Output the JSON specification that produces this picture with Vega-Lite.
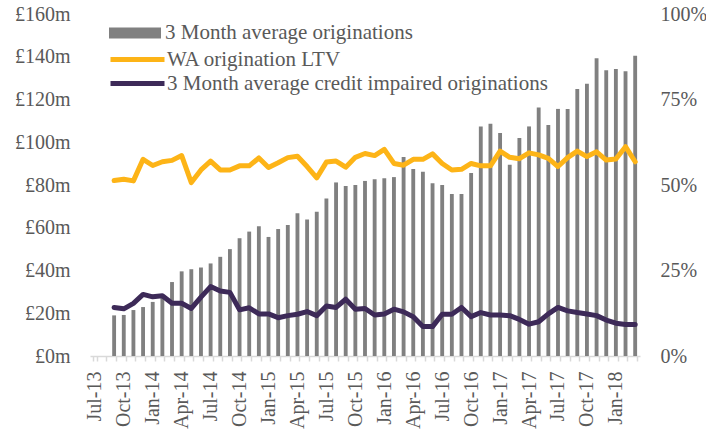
{
  "$schema": "https://vega.github.io/schema/vega-lite/v6.json",
  "width": 550,
  "height": 342,
  "autosize": {"type": "none"},
  "padding": {"left": 90, "top": 14, "right": 66, "bottom": 74},
  "background": "white",
  "config": {
    "view": {"stroke": null},
    "font": "Liberation Serif",
    "axis": {"labelFont": "Liberation Serif", "labelFontSize": 20, "labelColor": "#595959", "grid": false, "title": null},
    "legend": {"labelFont": "Liberation Serif", "labelFontSize": 21, "labelColor": "#595959", "padding": 0, "title": null, "labelLimit": 600}
  },
  "data": {"values": [
    {"month": "Sep-13", "orig": 19.0, "ltv": 0.513, "ci": 0.142},
    {"month": "Oct-13", "orig": 19.2, "ltv": 0.517, "ci": 0.138},
    {"month": "Nov-13", "orig": 21.5, "ltv": 0.512, "ci": 0.154},
    {"month": "Dec-13", "orig": 22.9, "ltv": 0.575, "ci": 0.180},
    {"month": "Jan-14", "orig": 25.3, "ltv": 0.557, "ci": 0.173},
    {"month": "Feb-14", "orig": 27.5, "ltv": 0.568, "ci": 0.176},
    {"month": "Mar-14", "orig": 34.6, "ltv": 0.572, "ci": 0.154},
    {"month": "Apr-14", "orig": 39.6, "ltv": 0.586, "ci": 0.154},
    {"month": "May-14", "orig": 40.6, "ltv": 0.507, "ci": 0.139},
    {"month": "Jun-14", "orig": 41.4, "ltv": 0.544, "ci": 0.172},
    {"month": "Jul-14", "orig": 43.3, "ltv": 0.570, "ci": 0.203},
    {"month": "Aug-14", "orig": 46.4, "ltv": 0.544, "ci": 0.190},
    {"month": "Sep-14", "orig": 50.0, "ltv": 0.544, "ci": 0.186},
    {"month": "Oct-14", "orig": 55.1, "ltv": 0.556, "ci": 0.135},
    {"month": "Nov-14", "orig": 58.2, "ltv": 0.556, "ci": 0.141},
    {"month": "Dec-14", "orig": 60.7, "ltv": 0.579, "ci": 0.123},
    {"month": "Jan-15", "orig": 55.7, "ltv": 0.551, "ci": 0.123},
    {"month": "Feb-15", "orig": 59.4, "ltv": 0.565, "ci": 0.112},
    {"month": "Mar-15", "orig": 61.3, "ltv": 0.580, "ci": 0.118},
    {"month": "Apr-15", "orig": 66.8, "ltv": 0.584, "ci": 0.122},
    {"month": "May-15", "orig": 63.9, "ltv": 0.554, "ci": 0.130},
    {"month": "Jun-15", "orig": 67.5, "ltv": 0.521, "ci": 0.118},
    {"month": "Jul-15", "orig": 73.7, "ltv": 0.567, "ci": 0.146},
    {"month": "Aug-15", "orig": 81.2, "ltv": 0.570, "ci": 0.142},
    {"month": "Sep-15", "orig": 79.5, "ltv": 0.552, "ci": 0.166},
    {"month": "Oct-15", "orig": 80.0, "ltv": 0.581, "ci": 0.137},
    {"month": "Nov-15", "orig": 81.9, "ltv": 0.592, "ci": 0.139},
    {"month": "Dec-15", "orig": 82.7, "ltv": 0.586, "ci": 0.120},
    {"month": "Jan-16", "orig": 83.1, "ltv": 0.604, "ci": 0.123},
    {"month": "Feb-16", "orig": 83.7, "ltv": 0.563, "ci": 0.137},
    {"month": "Mar-16", "orig": 93.1, "ltv": 0.558, "ci": 0.129},
    {"month": "Apr-16", "orig": 87.5, "ltv": 0.575, "ci": 0.115},
    {"month": "May-16", "orig": 86.2, "ltv": 0.575, "ci": 0.086},
    {"month": "Jun-16", "orig": 80.8, "ltv": 0.591, "ci": 0.086},
    {"month": "Jul-16", "orig": 80.0, "ltv": 0.563, "ci": 0.122},
    {"month": "Aug-16", "orig": 75.8, "ltv": 0.544, "ci": 0.122},
    {"month": "Sep-16", "orig": 75.8, "ltv": 0.546, "ci": 0.142},
    {"month": "Oct-16", "orig": 85.6, "ltv": 0.563, "ci": 0.115},
    {"month": "Nov-16", "orig": 107.4, "ltv": 0.556, "ci": 0.127},
    {"month": "Dec-16", "orig": 108.7, "ltv": 0.556, "ci": 0.120},
    {"month": "Jan-17", "orig": 104.3, "ltv": 0.599, "ci": 0.120},
    {"month": "Feb-17", "orig": 89.5, "ltv": 0.581, "ci": 0.118},
    {"month": "Mar-17", "orig": 102.0, "ltv": 0.577, "ci": 0.107},
    {"month": "Apr-17", "orig": 107.4, "ltv": 0.594, "ci": 0.093},
    {"month": "May-17", "orig": 116.2, "ltv": 0.588, "ci": 0.100},
    {"month": "Jun-17", "orig": 108.1, "ltv": 0.578, "ci": 0.123},
    {"month": "Jul-17", "orig": 115.6, "ltv": 0.554, "ci": 0.142},
    {"month": "Aug-17", "orig": 115.6, "ltv": 0.580, "ci": 0.132},
    {"month": "Sep-17", "orig": 124.9, "ltv": 0.599, "ci": 0.127},
    {"month": "Oct-17", "orig": 127.4, "ltv": 0.583, "ci": 0.123},
    {"month": "Nov-17", "orig": 139.3, "ltv": 0.597, "ci": 0.118},
    {"month": "Dec-17", "orig": 133.7, "ltv": 0.573, "ci": 0.105},
    {"month": "Jan-18", "orig": 134.3, "ltv": 0.576, "ci": 0.096},
    {"month": "Feb-18", "orig": 133.2, "ltv": 0.612, "ci": 0.092},
    {"month": "Mar-18", "orig": 140.5, "ltv": 0.568, "ci": 0.092}
  ]},
  "encoding": {
    "x": {
      "field": "month", "type": "ordinal",
      "scale": {
        "domain": ["Jul-13","Aug-13","Sep-13","Oct-13","Nov-13","Dec-13","Jan-14","Feb-14","Mar-14","Apr-14","May-14","Jun-14","Jul-14","Aug-14","Sep-14","Oct-14","Nov-14","Dec-14","Jan-15","Feb-15","Mar-15","Apr-15","May-15","Jun-15","Jul-15","Aug-15","Sep-15","Oct-15","Nov-15","Dec-15","Jan-16","Feb-16","Mar-16","Apr-16","May-16","Jun-16","Jul-16","Aug-16","Sep-16","Oct-16","Nov-16","Dec-16","Jan-17","Feb-17","Mar-17","Apr-17","May-17","Jun-17","Jul-17","Aug-17","Sep-17","Oct-17","Nov-17","Dec-17","Jan-18","Feb-18","Mar-18"],
        "paddingInner": 0.6, "paddingOuter": 0.3
      },
      "axis": {
        "labelAngle": 270,
        "labelExpr": "indexof(['Jul','Oct','Jan','Apr'], slice(datum.label, 0, 3)) >= 0 ? datum.label : ''",
        "labelOverlap": false,
        "labelBound": false,
        "domainColor": "#D9D9D9",
        "domainWidth": 1.5,
        "tickColor": "#D9D9D9",
        "tickWidth": 1.5,
        "tickSize": 5,
        "tickBand": "extent",
        "labelPadding": 10
      }
    }
  },
  "layer": [
    {
      "mark": {"type": "bar"},
      "encoding": {
        "y": {
          "field": "orig", "type": "quantitative",
          "scale": {"domain": [0, 160]},
          "axis": {"orient": "left", "values": [0,20,40,60,80,100,120,140,160], "labelExpr": "'£' + datum.value + 'm'", "domain": false, "ticks": false, "labelPadding": 20}
        },
        "fill": {
          "datum": "3 Month average originations",
          "scale": {"range": ["#808080"]},
          "legend": {"orient": "none", "legendX": 19, "legendY": -7, "symbolType": "M-1,-0.21L1,-0.21L1,0.21L-1,0.21Z", "symbolSize": 2704, "symbolStrokeWidth": 0, "symbolOpacity": 1, "labelOffset": 4}
        }
      }
    },
    {
      "layer": [
        {
          "mark": {"type": "line", "strokeWidth": 5, "strokeJoin": "round", "strokeCap": "round"},
          "encoding": {
            "y": {
              "field": "ltv", "type": "quantitative",
              "scale": {"domain": [0, 1]},
              "axis": {"orient": "right", "values": [0, 0.25, 0.5, 0.75, 1], "format": ".0%", "domain": false, "ticks": false, "labelPadding": 20}
            },
            "stroke": {
              "datum": "WA origination LTV",
              "scale": {"range": ["#FDB417"]},
              "legend": {"orient": "none", "legendX": 18, "legendY": 16, "symbolType": "stroke", "symbolSize": 2916, "symbolStrokeWidth": 5, "labelOffset": 0}
            }
          }
        },
        {
          "mark": {"type": "line", "strokeWidth": 5, "strokeJoin": "round", "strokeCap": "round"},
          "encoding": {
            "y": {"field": "ci", "type": "quantitative"},
            "color": {
              "datum": "3 Month average credit impaired originations",
              "scale": {"range": ["#3D2A58"]},
              "legend": {"orient": "none", "legendX": 18, "legendY": 40, "symbolType": "stroke", "symbolSize": 2916, "symbolStrokeWidth": 5, "labelOffset": 0}
            }
          }
        }
      ]
    }
  ],
  "resolve": {"scale": {"y": "independent"}}
}
